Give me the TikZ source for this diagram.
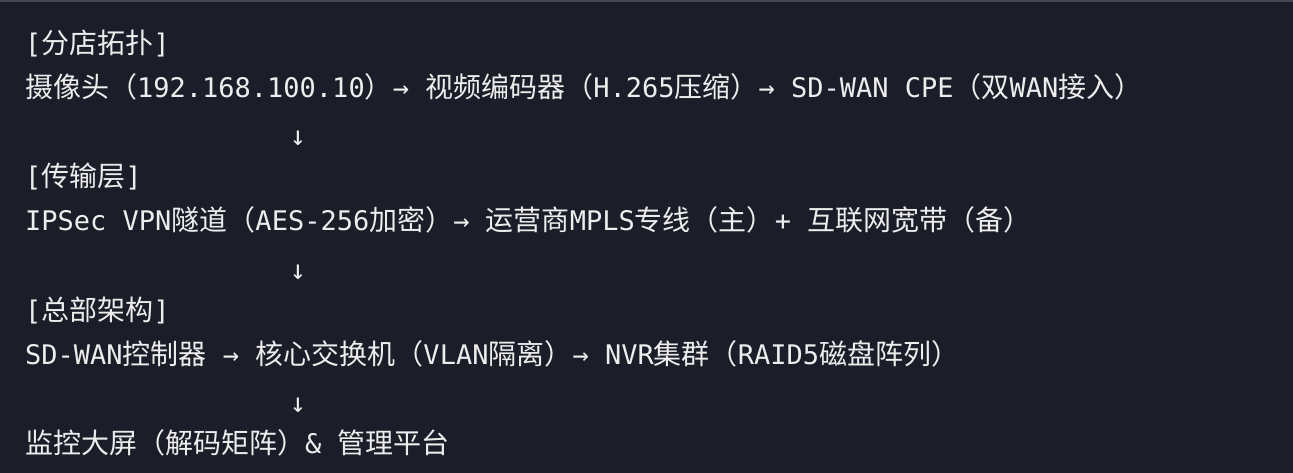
\documentclass[tikz,border=0pt]{standalone}
\usepackage{fontspec}
\setmonofont{DejaVu Sans Mono}
\newfontfamily\cjkfont{Noto Sans CJK SC}
\newcommand{\cn}[1]{{\cjkfont\fontsize{28}{32}\selectfont #1}}
\definecolor{codebg}{HTML}{1B1E28}
\definecolor{codeedge}{HTML}{474852}
\definecolor{codefg}{HTML}{EDEDED}
\tikzset{
  codeline/.style={anchor=base west, inner sep=0pt, text=codefg,
    font=\ttfamily\fontsize{27}{32}\selectfont},
  downarrow/.style={codeline, anchor=base}
}
\begin{document}
\begin{tikzpicture}[x=1pt,y=-1pt]
      \fill[codebg] (0,0) rectangle (1293,473);
      \fill[codeedge] (0,0) rectangle (1293,2);
      \useasboundingbox (0,0) rectangle (1293,473);

      % branch
      \node[codeline] (branch) at (25,54) {[\cn{分店拓扑}]};
      \node[codeline] (camera) at (25,98) {\cn{摄像头（}192.168.100.10\cn{）}→ \cn{视频编码器（}H.265\cn{压缩）}→ SD-WAN CPE\cn{（双}WAN\cn{接入）}};
      \node[downarrow] (down1) at (298,146) {↓};

      % transport
      \node[codeline] (transport) at (25,187) {[\cn{传输层}]};
      \node[codeline] (vpn) at (25,231) {IPSec VPN\cn{隧道（}AES-256\cn{加密）}→ \cn{运营商}MPLS\cn{专线（主）}+ \cn{互联网宽带（备）}};
      \node[downarrow] (down2) at (298,279) {↓};

      % headquarters
      \node[codeline] (hq) at (25,320) {[\cn{总部架构}]};
      \node[codeline] (core) at (25,364.5) {SD-WAN\cn{控制器} → \cn{核心交换机（}VLAN\cn{隔离）}→ NVR\cn{集群（}RAID5\cn{磁盘阵列）}};
      \node[downarrow] (down3) at (298,412) {↓};
      \node[codeline] (screen) at (25,453.5) {\cn{监控大屏（解码矩阵）}\& \cn{管理平台}};
\end{tikzpicture}
\end{document}
